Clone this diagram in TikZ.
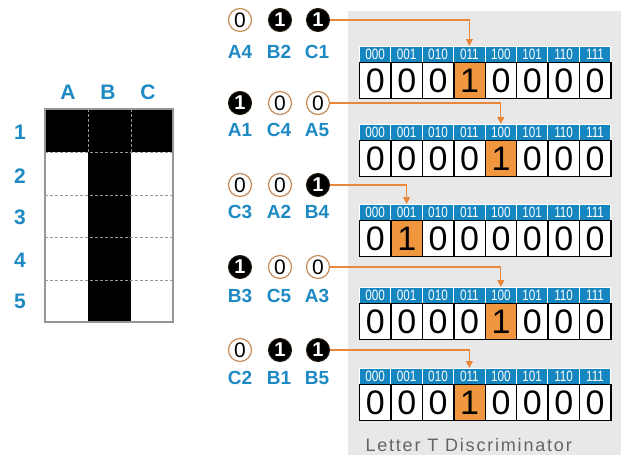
\documentclass[tikz,border=0pt]{standalone}
\usepackage{fontspec}
\setmainfont{Liberation Sans}
\newfontfamily\narrowfont[FakeStretch=0.78]{Liberation Sans}
\newfontfamily\spacedfont[LetterSpace=10]{Liberation Sans}
\usetikzlibrary{arrows.meta}
\definecolor{lblue}{RGB}{30,138,196}
\definecolor{hblue}{RGB}{22,134,192}
\definecolor{orng}{RGB}{239,150,62}
\definecolor{arrc}{RGB}{232,135,58}
\definecolor{panelgray}{RGB}{232,232,232}
\definecolor{ringc}{RGB}{196,140,90}
\definecolor{gridgray}{RGB}{150,150,150}
\definecolor{captgray}{RGB}{100,100,100}
\begin{document}
\begin{tikzpicture}[x=1pt,y=-1pt,
  lbl/.style={text=lblue,font=\bfseries\fontsize{21}{21}\selectfont},
  clbl/.style={text=lblue,font=\bfseries\fontsize{19}{19}\selectfont},
  hcell/.style={rectangle,anchor=north west,minimum width=31.4pt,minimum height=16pt,inner sep=0pt,fill=hblue,draw=white,line width=1pt,text=white,font=\narrowfont\fontsize{15}{15}\selectfont},
  vcell/.style={rectangle,anchor=north west,minimum width=31.4pt,minimum height=36pt,inner sep=0pt,fill=white,draw=black,line width=1.3pt,font=\fontsize{34}{34}\selectfont},
  hit/.style={fill=orng},
  bit0/.style={circle,minimum size=23pt,inner sep=0pt,fill=white,draw=ringc,line width=1.2pt,font=\fontsize{21}{21}\selectfont},
  bit1/.style={circle,minimum size=23pt,inner sep=0pt,fill=black,draw=black!80!brown,line width=1pt,text=white,font=\bfseries\fontsize{20}{20}\selectfont},
  arr/.style={draw=arrc,line width=1.2pt,-{Triangle[length=7pt,width=7pt]}},
  griddash/.style={draw=gridgray,line width=1pt,dash pattern=on 3pt off 2pt},
]
\useasboundingbox (0,0) rectangle (621,455);
\fill[white] (0,0) rectangle (621,455);
% panel
\fill[panelgray] (348,11) rectangle (621,455);
% letter grid
\fill[black] (45,109) rectangle (173,152);
\fill[black] (88,152) rectangle (131,322);
\draw[griddash] (88,109) -- (88,152);
\draw[griddash] (131,109) -- (131,152);
\foreach \yy in {152,195,237,280} {\draw[griddash] (45,\yy) -- (173,\yy);}
\draw[gridgray,line width=1.2pt] (45,109) rectangle (173,322);
\node[lbl] (colA) at (68,92) {A};
\node[lbl] (colB) at (108,92) {B};
\node[lbl] (colC) at (148,92) {C};
\node[lbl] (row1) at (20,132) {1};
\node[lbl] (row2) at (20,176) {2};
\node[lbl] (row3) at (20,217) {3};
\node[lbl] (row4) at (20,260) {4};
\node[lbl] (row5) at (20,301) {5};
% discriminator rows
\foreach \rw/\cy/\ly/\hy/\lA/\lB/\lC/\bA/\bB/\bC/\tg in {
  1/20/52/46/A4/B2/C1/0/1/1/3,
  2/103/130/124/A1/C4/A5/1/0/0/4,
  3/185/212/204/C3/A2/B4/0/0/1/1,
  4/267/296/287/B3/C5/A3/1/0/0/4,
  5/350/378/368/C2/B1/B5/0/1/1/3} {
  \node[bit\bA] (c\rw-1) at (240,\cy) {\bA};
  \node[bit\bB] (c\rw-2) at (280,\cy) {\bB};
  \node[bit\bC] (c\rw-3) at (318,\cy) {\bC};
  \node[clbl] (l\rw-1) at (240,\ly) {\lA};
  \node[clbl] (l\rw-2) at (279,\ly) {\lB};
  \node[clbl] (l\rw-3) at (317,\ly) {\lC};
  \foreach \ci/\code in {0/000,1/001,2/010,3/011,4/100,5/101,6/110,7/111} {
    \node[hcell] (h\rw-\ci) at ({359+31.4*\ci},\hy) {\code};
    \ifnum\ci=\tg
      \node[vcell,hit] (v\rw-\ci) at ({359+31.4*\ci},\hy+16) {1};
    \else
      \node[vcell] (v\rw-\ci) at ({359+31.4*\ci},\hy+16) {0};
    \fi
  }
  \draw[arr] (c\rw-3.east) -| (h\rw-\tg.north);
}
\node[text=captgray,anchor=west,font=\spacedfont\fontsize{18}{18}\selectfont] (cap) at (362,445) {Letter T Discriminator};
\end{tikzpicture}
\end{document}
